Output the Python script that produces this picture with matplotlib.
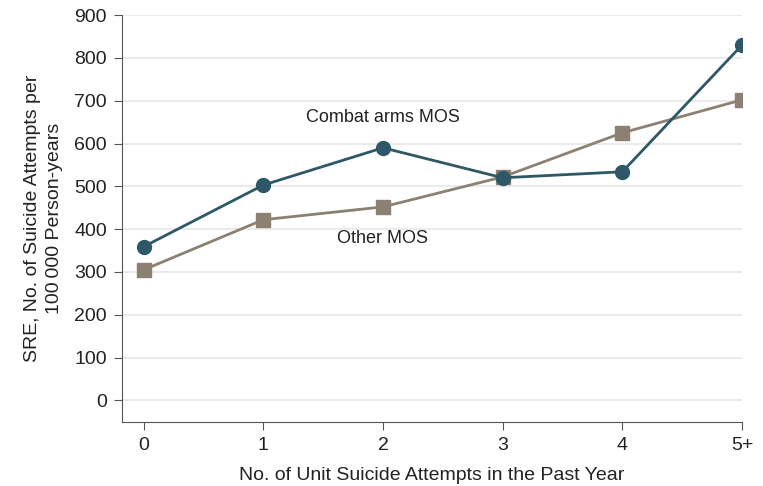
import matplotlib
matplotlib.use('Agg')
import matplotlib.pyplot as plt

plt.rcParams['font.family'] = ['Liberation Sans Narrow', 'Liberation Sans', 'DejaVu Sans']

# data
categories = ['0', '1', '2', '3', '4', '5+']
combat_arms = [359, 503, 590, 520, 534, 830]
other_mos = [305, 422, 452, 522, 625, 702]

col_combat = '#2e5768'
col_other = '#8b8072'

fig = plt.figure(figsize=(7.63, 4.86), dpi=100)
ax = fig.add_axes([0.160, 0.132, 0.8125, 0.837])

x = list(range(len(categories)))
ax.plot(x, other_mos, color=col_other, lw=2, marker='s', ms=10, zorder=3)
ax.plot(x, combat_arms, color=col_combat, lw=2, marker='o', ms=10, zorder=4)

ax.text(2, 660, 'Combat arms MOS', ha='center', va='center', fontsize=13, color='#222222')
ax.text(2, 378, 'Other MOS', ha='center', va='center', fontsize=13, color='#222222')

ax.set_xlim(-0.18, 5)
ax.set_ylim(-50, 900)
ax.set_xticks(x)
ax.set_xticklabels(categories)
ax.set_yticks(range(0, 901, 100))
ax.yaxis.grid(True, color='#ebebeb', lw=1.5)
ax.set_axisbelow(True)

for s in ['top', 'right']:
    ax.spines[s].set_visible(False)
for s in ['left', 'bottom']:
    ax.spines[s].set_color('#555555')
ax.tick_params(axis='both', colors='#555555', labelcolor='#222222', labelsize=14, length=6, pad=5)

ax.set_xlabel('No. of Unit Suicide Attempts in the Past Year', fontsize=14, color='#222222', labelpad=9)
ax.set_ylabel('SRE, No. of Suicide Attempts per\n100\u2009000 Person-years', fontsize=14, color='#222222',
              labelpad=8, linespacing=1.4)

fig.savefig('out.png', dpi=100)
